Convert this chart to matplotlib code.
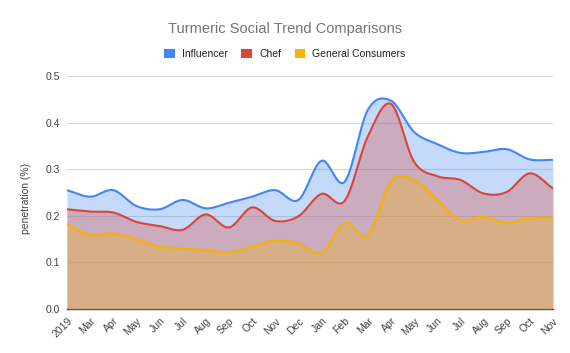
import numpy as np
import matplotlib
matplotlib.use("Agg")
import matplotlib.pyplot as plt
from matplotlib.patches import Patch

plt.rcParams['font.family'] = ['Liberation Sans', 'DejaVu Sans']

months = ["2019", "Mar", "Apr", "May", "Jun", "Jul", "Aug", "Sep", "Oct", "Nov", "Dec",
          "Jan", "Feb", "Mar", "Apr", "May", "Jun", "Jul", "Aug", "Sep", "Oct", "Nov"]
influencer = [0.255, 0.241, 0.255, 0.221, 0.214, 0.234, 0.216, 0.228, 0.241, 0.255, 0.234,
              0.318, 0.273, 0.427, 0.447, 0.380, 0.354, 0.335, 0.337, 0.343, 0.321, 0.320]
chef = [0.214, 0.209, 0.207, 0.187, 0.178, 0.170, 0.203, 0.175, 0.218, 0.189, 0.199,
        0.247, 0.232, 0.370, 0.440, 0.316, 0.285, 0.277, 0.248, 0.251, 0.291, 0.259]
consumers = [0.182, 0.159, 0.162, 0.150, 0.134, 0.130, 0.126, 0.122, 0.134, 0.147, 0.141,
             0.120, 0.185, 0.159, 0.273, 0.277, 0.234, 0.191, 0.198, 0.185, 0.195, 0.196]

series = [
    ("Influencer", influencer, "#4285F4"),
    ("Chef", chef, "#DB4437"),
    ("General Consumers", consumers, "#F4B400"),
]


def smooth(y, n=20):
    # Catmull-Rom curve through the points, for a Sheets-like smooth line
    y = np.asarray(y, dtype=float)
    x = np.arange(len(y), dtype=float)
    p = np.concatenate([[2 * y[0] - y[1]], y, [2 * y[-1] - y[-2]]])
    xs, ys = [], []
    t = np.linspace(0, 1, n, endpoint=False)
    for i in range(len(y) - 1):
        p0, p1, p2, p3 = p[i], p[i + 1], p[i + 2], p[i + 3]
        seg = 0.5 * ((2 * p1) + (-p0 + p2) * t + (2 * p0 - 5 * p1 + 4 * p2 - p3) * t ** 2
                     + (-p0 + 3 * p1 - 3 * p2 + p3) * t ** 3)
        xs.append(x[i] + t)
        ys.append(seg)
    xs.append([x[-1]])
    ys.append([y[-1]])
    return np.concatenate(xs), np.concatenate(ys)


fig = plt.figure(figsize=(5.7, 3.53), dpi=100)
ax = fig.add_axes([0.1175, 0.1246, 0.8525, 0.6601])

for name, vals, color in series:
    xs, ys = smooth(vals)
    ax.fill_between(xs, 0, ys, color=color, alpha=0.3, linewidth=0, zorder=2)
    ax.plot(xs, ys, color=color, linewidth=1.5, zorder=3)

ax.set_xlim(0, len(months) - 1)
ax.set_ylim(0, 0.5)
ax.set_yticks([0.0, 0.1, 0.2, 0.3, 0.4, 0.5])
ax.set_yticklabels(["0.0", "0.1", "0.2", "0.3", "0.4", "0.5"])
ax.set_xticks(range(len(months)))
ax.set_xticklabels(months, rotation=45, ha="right", rotation_mode="anchor")
ax.tick_params(axis="both", length=0, labelsize=7.5, labelcolor="#444444", pad=5)
ax.grid(axis="y", color="#d9d9d9", linewidth=0.8, zorder=0)
ax.set_axisbelow(True)
for side in ["top", "right", "left"]:
    ax.spines[side].set_visible(False)
ax.spines["bottom"].set_color("#333333")
ax.spines["bottom"].set_linewidth(1)
ax.spines["bottom"].set_zorder(1)

ax.set_ylabel("penetration (%)", fontsize=7.5, color="#444444")
ax.yaxis.set_label_coords(-0.074, 0.476)

fig.text(0.5, 1 - 29 / 353, "Turmeric Social Trend Comparisons", ha="center", va="center",
         fontsize=10.5, color="#757575")

handles = [Patch(facecolor=c, edgecolor="none", label=n) for n, _, c in series]
fig.legend(handles=handles, loc="center", bbox_to_anchor=(0.5, 1 - 54 / 353), ncol=3,
           frameon=False, fontsize=7.5, handlelength=1.0, handleheight=1.0,
           handletextpad=0.7, columnspacing=1.3, labelcolor="#222222")

fig.savefig("out.png", dpi=100)
